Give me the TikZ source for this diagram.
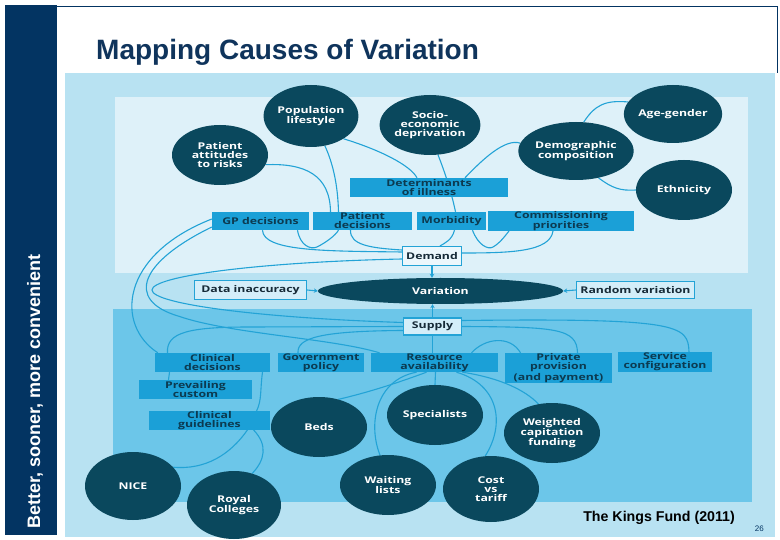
\documentclass[tikz,border=0pt]{standalone}
\usepackage{fontspec}
\setmainfont{Liberation Sans}
\newfontfamily\dfont{Open Sans}[FakeStretch=1.32]
\usetikzlibrary{shapes.geometric,arrows.meta}
\definecolor{navy}{RGB}{3,52,98}
\definecolor{titlec}{RGB}{15,52,92}
\definecolor{outerc}{RGB}{184,226,242}
\definecolor{upperc}{RGB}{222,241,249}
\definecolor{lowerc}{RGB}{108,198,233}
\definecolor{boxc}{RGB}{27,160,215}
\definecolor{circc}{RGB}{10,72,93}
\definecolor{boxtext}{RGB}{12,58,80}
\definecolor{linec}{RGB}{35,163,214}
\definecolor{wfill}{RGB}{236,247,252}
\definecolor{dfill}{RGB}{212,238,249}
\definecolor{dtext}{RGB}{22,42,55}
\pgfdeclarelayer{panel}
\pgfdeclarelayer{links}
\pgfsetlayers{panel,links,main}
\begin{document}
\begin{tikzpicture}[x=1pt,y=-1pt,
  dtxt/.style={font=\dfont\bfseries\fontsize{9.3}{9}\selectfont},
  circ/.style={ellipse, fill=circc, text=white, inner sep=0pt, minimum width=96pt, minimum height=60pt, align=center, dtxt},
  boxs/.style={rectangle, fill=boxc, text=boxtext, inner sep=0pt, align=center, dtxt},
  wbox/.style={rectangle, fill=wfill, draw=linec, line width=1.1pt, text=dtext, inner sep=0pt, align=center, dtxt},
  conn/.style={draw=linec, line width=1.1pt},
  arr/.style={conn, -{Stealth[length=4pt,width=4.5pt]}}]
\useasboundingbox (0,0) rectangle (780,540);
\begin{pgfonlayer}{panel}
\fill[white] (0,0) rectangle (780,540);
\fill[navy] (5,5) rectangle (57,535);
\draw[navy, line width=0.8pt] (57,6) -- (777,6) -- (777,73);
\fill[outerc] (65,73) rectangle (775,537);
\fill[upperc] (115,97) rectangle (748,273);
\fill[lowerc] (113,309) rectangle (752,502);
\end{pgfonlayer}
% texts
\node[anchor=base west, inner sep=0pt, text=titlec, font=\bfseries\fontsize{28}{30}\selectfont] (title) at (96,60) {Mapping Causes of Variation};
\node[anchor=base west, rotate=90, inner sep=0pt, text=white, font=\bfseries\fontsize{18}{20}\selectfont] (side) at (40,529) {Better, sooner, more convenient};
\node[anchor=base east, inner sep=0pt, text=black, font=\bfseries\fontsize{14.2}{16}\selectfont] (kf) at (735,521) {The Kings Fund (2011)};
\node[anchor=base east, inner sep=0pt, text=navy, font=\fontsize{8}{9}\selectfont] (pg) at (764,531) {26};
% circles
\node[circ, minimum width=92pt, minimum height=62pt] (pop) at (311,116) {Population\\lifestyle};
\node[circ] (socio) at (430,125) {Socio-\\economic\\deprivation};
\node[circ] (att) at (220,155) {Patient\\attitudes\\to risks};
\node[circ, minimum height=58pt] (age) at (673,114) {Age-gender};
\node[circ, minimum height=58pt] (demo) at (576,151) {Demographic\\composition};
\node[circ] (eth) at (684,190) {Ethnicity};
\node[circ] (beds) at (319,427) {Beds};
\node[circ] (spec) at (435,415) {Specialists};
\node[circ] (wcf) at (552,433) {Weighted\\capitation\\funding};
\node[circ] (wait) at (388,485) {Waiting\\lists};
\node[circ, minimum height=66pt] (cost) at (491,489) {Cost\\vs\\tariff};
\node[circ, minimum height=68pt] (nice) at (133,486) {NICE};
\node[circ, minimum width=94pt, minimum height=68pt] (royal) at (234,505) {Royal\\Colleges};
% boxes
\node[boxs, minimum width=158pt, minimum height=19pt] (det) at (429,187.5) {Determinants\\of illness};
\node[boxs, minimum width=97pt, minimum height=18pt] (gp) at (260.5,221) {GP decisions};
\node[boxs, minimum width=99pt, minimum height=18pt] (pdec) at (362.5,221) {Patient\\decisions};
\node[boxs, minimum width=69pt, minimum height=18pt] (morb) at (451.5,221) {Morbidity};
\node[boxs, minimum width=146pt, minimum height=18pt] (comm) at (561,221) {Commissioning\\priorities};
\node[wbox, minimum width=59pt, minimum height=19pt] (demand) at (432,256) {Demand};
\node[ellipse, fill=circc, text=white, minimum width=245pt, minimum height=26pt, inner sep=0pt, dtxt] (var) at (440.5,291) {Variation};
\node[wbox, fill=dfill, minimum width=112pt, minimum height=19pt] (datai) at (250.5,290) {Data inaccuracy};
\node[wbox, fill=dfill, minimum width=118pt, minimum height=17pt] (randv) at (635.5,290) {Random variation};
\node[wbox, fill=dfill, minimum width=58pt, minimum height=17pt] (supply) at (432.5,326.5) {Supply};
\node[boxs, minimum width=115pt, minimum height=19pt] (clin) at (212.5,362.5) {Clinical\\decisions};
\node[boxs, minimum width=86pt, minimum height=19pt] (gov) at (321,362.5) {Government\\policy};
\node[boxs, minimum width=127pt, minimum height=19pt] (res) at (434.5,362.5) {Resource\\availability};
\node[boxs, minimum width=107pt, minimum height=30pt] (priv) at (558.5,368) {Private\\provision\\(and payment)};
\node[boxs, minimum width=94pt, minimum height=20pt] (serv) at (665,362) {Service\\configuration};
\node[boxs, minimum width=113pt, minimum height=19pt] (prev) at (195.5,389.5) {Prevailing\\custom};
\node[boxs, minimum width=121pt, minimum height=17pt] (guide) at (209.5,420.5) {Clinical\\guidelines};
% connectors
\begin{pgfonlayer}{links}
\draw[conn] (att.-12) .. controls (305,163) and (330,175) .. ([xshift=-32]pdec.north);
\draw[conn] (pop.-65) .. controls (336,170) and (338,195) .. ([xshift=-24]pdec.north);
\draw[conn] (pop.-35) .. controls (380,150) and (410,165) .. ([xshift=-12]det.north);
\draw[conn] (socio.-75) .. controls (446,175) and (452,195) .. ([xshift=4]morb.north);
\draw[conn] (demo.172) .. controls (505,138) and (482,160) .. ([xshift=36]det.north);
\draw[conn] (demo.75) .. controls (595,105) and (605,100) .. (age.165);
\draw[conn] (demo.-50) .. controls (612,188) and (620,191) .. (eth.180);
\draw[conn] ([xshift=2]gp.south) .. controls (263,252) and (330,251) .. ([yshift=4]demand.west);
\draw[conn] ([xshift=-12]pdec.south) .. controls (350,245) and (370,248) .. ([yshift=6]demand.west);
\draw[conn] ([xshift=37]gp.south) .. controls (300,245) and (310,250) .. (317,247) .. controls (325,243) and (335,236) .. ([xshift=-24]pdec.south);
\draw[conn] ([xshift=21]morb.south) .. controls (478,245) and (488,250) .. (493,247) .. controls (500,243) and (505,236) .. ([xshift=-52]comm.south);
\draw[conn] ([xshift=3]morb.south) .. controls (452,240) and (445,243) .. ([xshift=8]demand.north);
\draw[conn] ([xshift=-8]comm.south) .. controls (550,252) and (510,253) .. ([yshift=3]demand.east);
\coordinate (tip) at (152,290);
\draw[conn] ([yshift=-3]demand.west) .. controls (260,262) and (152,276) .. (tip) .. controls (152,304) and (260,318) .. ([yshift=4]supply.west);
\draw[conn] ([yshift=2]gp.west) .. controls (120,255) and (115,325) .. ([xshift=3]clin.north west);
\coordinate (gpb) at (178,316);
\draw[conn] ([yshift=-6]gp.west) .. controls (140,262) and (125,300) .. (gpb) .. controls (230,334) and (330,338) .. ([xshift=-55]res.north);
\coordinate (clinb) at (250,327);
\draw[conn] ([xshift=-45]clin.north) .. controls (166,332) and (190,327) .. (clinb) -- (supply.west);
\draw[conn] ([xshift=-23]gov.north) .. controls (297,338) and (320,331) .. ([yshift=-4]supply.west);
\draw[conn] (supply.south) -- ([xshift=-2]res.north);
\draw[conn] (supply.east) .. controls (555,327) and (577,328) .. ([xshift=19]priv.north);
\draw[conn] ([yshift=6]supply.east) .. controls (680,318) and (688,325) .. ([xshift=24]serv.north);
\draw[conn] ([xshift=37]res.north) .. controls (485,338) and (510,335) .. ([xshift=-38]priv.north);
\draw[conn] ([xshift=-8]res.south) .. controls (400,382) and (370,392) .. (beds.55);
\draw[conn] ([xshift=1]res.south) -- (spec.north);
\draw[conn] ([xshift=-18]res.south) .. controls (375,380) and (368,425) .. (wait.105);
\draw[conn] ([xshift=22]res.south) .. controls (500,385) and (505,425) .. (cost.100);
\draw[conn] ([xshift=28]res.south) .. controls (500,378) and (525,390) .. (wcf.115);
\draw[conn] ([xshift=-43]clin.south) -- ([xshift=-27]prev.north);
\draw[conn] ([xshift=50]clin.south) .. controls (260,390) and (262,400) .. ([xshift=47]guide.north);
\draw[conn] ([xshift=38]guide.south) .. controls (230,455) and (205,470) .. (nice.25);
\draw[conn] ([xshift=44]guide.south) .. controls (268,445) and (265,460) .. (royal.60);
\draw[arr] (demand.south) -- (demand.south |- var.north);
\draw[arr] (supply.north) -- (supply.north |- var.south);
\draw[arr] (datai.east) -- (var.west);
\draw[arr] (randv.west) -- (var.east);
\end{pgfonlayer}
\end{tikzpicture}
\end{document}
